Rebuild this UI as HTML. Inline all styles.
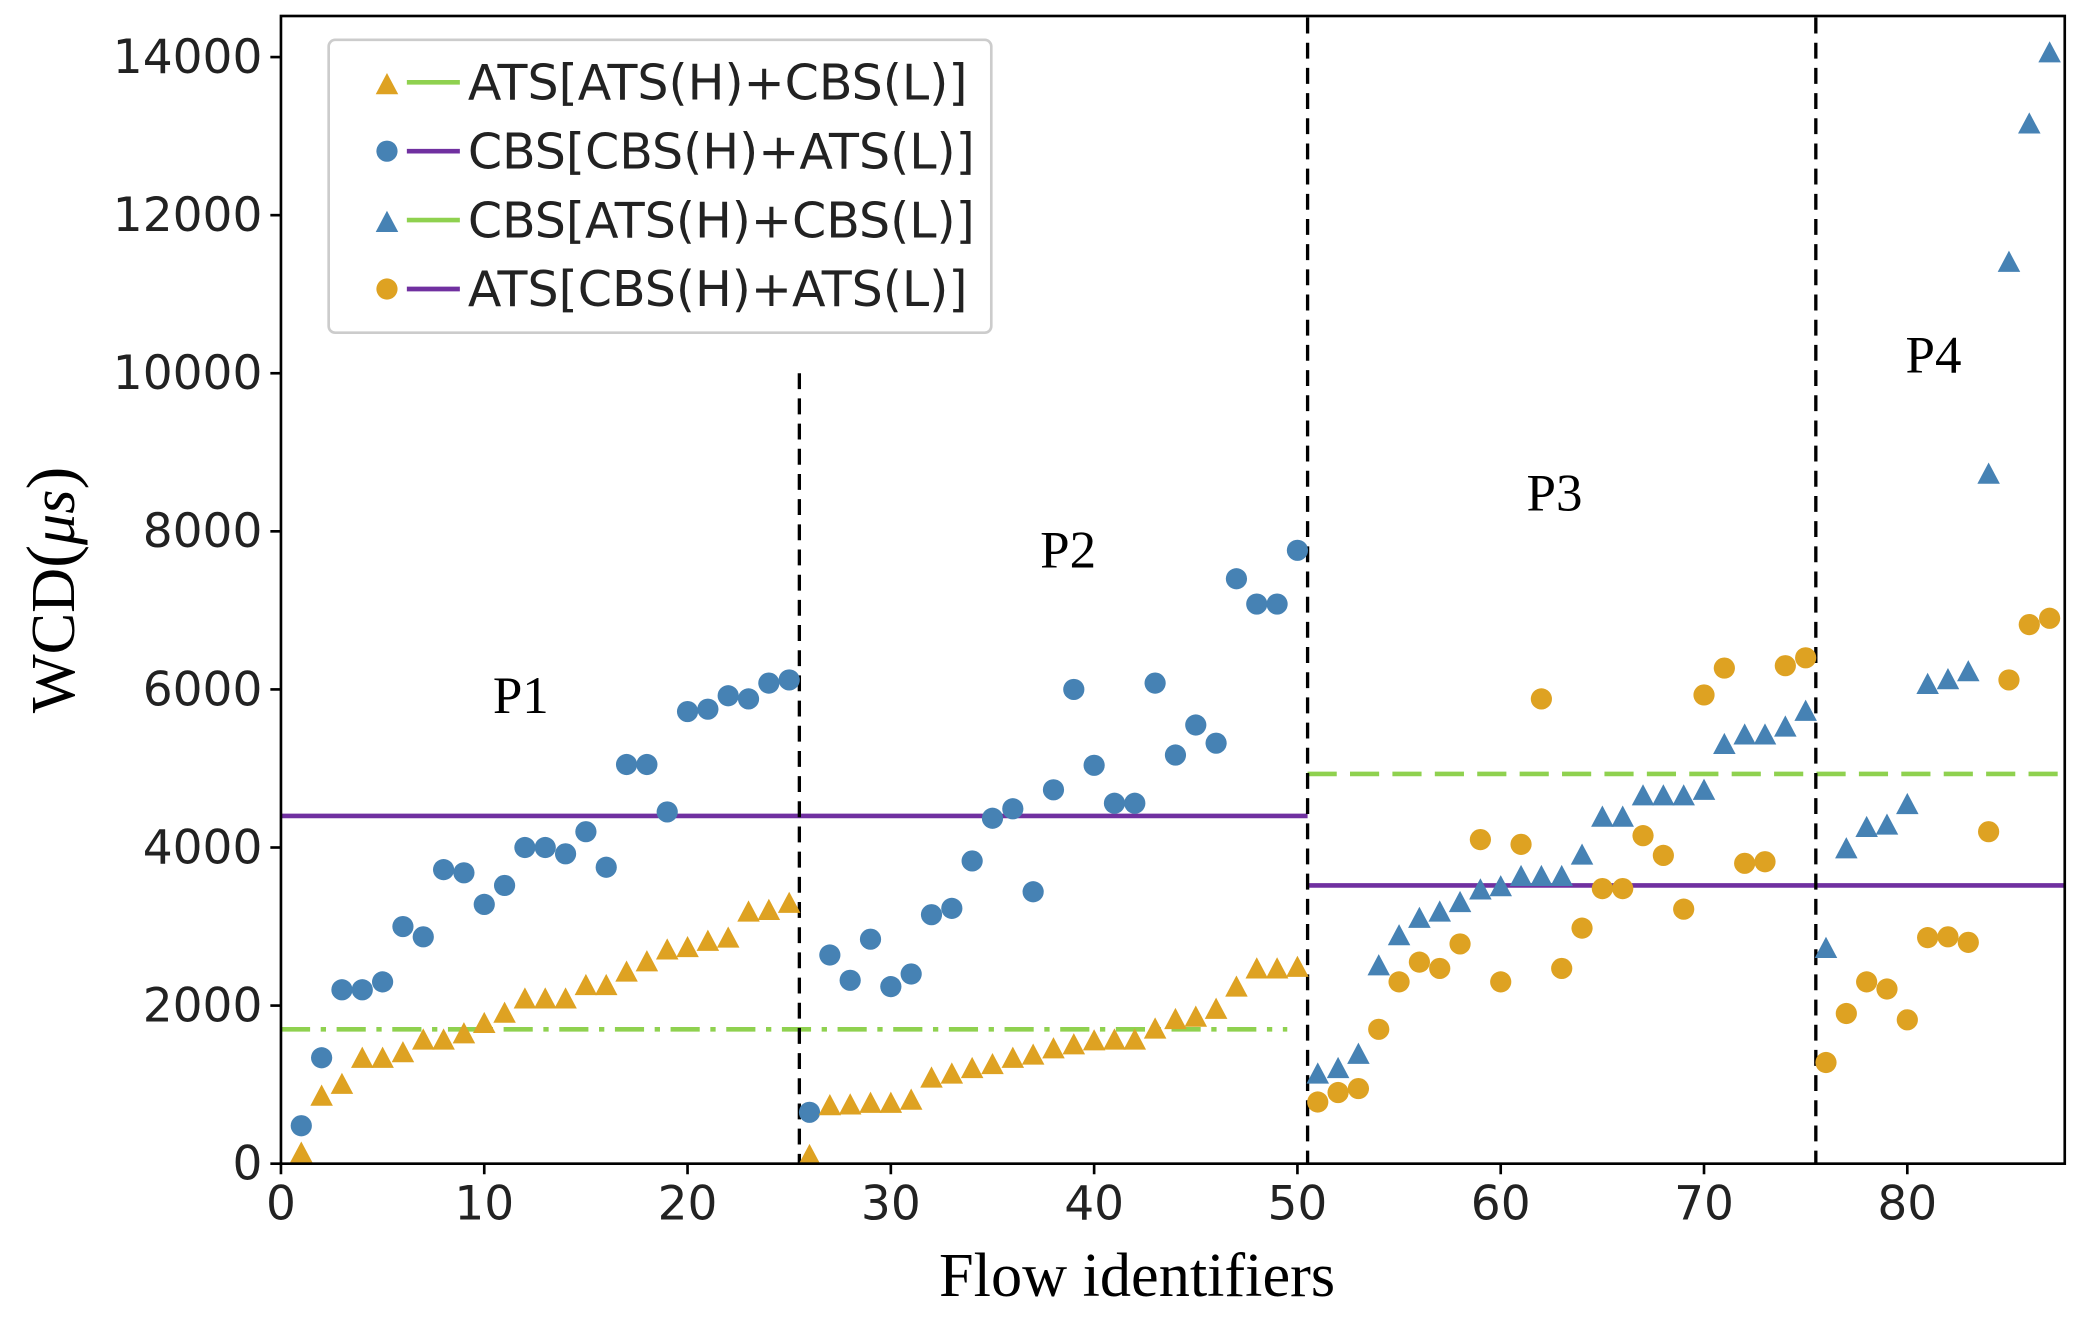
<!DOCTYPE html>
<html><head><meta charset="utf-8"><style>
html,body{margin:0;padding:0;background:#fff;}
svg{display:block;}
</style></head><body>
<svg id="chart" width="2078" height="1344" viewBox="0 0 1568 1014" xmlns="http://www.w3.org/2000/svg">
<rect x="0" y="0" width="1568" height="1014" fill="#fff"/>
<g id="marks"></g>
<g id="axes"></g>
</svg>
<script>
const flowsA = Array.from({length:50},(_,i)=>i+1);
const flowsB = Array.from({length:37},(_,i)=>i+51);
const cbsCbsH = [480,1340,2200,2200,2300,3000,2870,3720,3680,3280,3520,4000,4000,3920,4200,3750,5050,5050,4450,5720,5750,5920,5880,6080,6120,
650,2640,2320,2840,2240,2400,3150,3230,3830,4370,4490,3440,4730,6000,5040,4560,4560,6080,5170,5550,5320,7400,7080,7080,7760];
const atsAtsH = [130,850,1000,1330,1330,1400,1560,1560,1640,1770,1900,2080,2080,2080,2250,2250,2420,2550,2700,2730,2810,2850,3180,3200,3290,
100,730,740,760,760,800,1080,1130,1200,1250,1330,1370,1450,1500,1550,1560,1560,1700,1820,1850,1950,2230,2460,2460,2480];
const cbsAtsH = [1130,1200,1380,2500,2880,3100,3180,3300,3460,3500,3630,3630,3630,3900,4380,4380,4650,4650,4650,4720,5300,5420,5420,5520,5720,
2720,3980,4250,4280,4540,6060,6120,6220,8720,11400,13150,14050];
const atsCbsH = [780,900,950,1700,2300,2550,2470,2780,4100,2300,4040,5880,2470,2980,3480,3480,4150,3900,3220,5930,6270,3800,3820,6300,6400,
1280,1900,2300,2210,1820,2860,2870,2800,4200,6120,6820,6900];
const xTicks = [0,10,20,30,40,50,60,70,80];
const yTicks = [0,2000,4000,6000,8000,10000,12000,14000];
const hLines = [
 {name:'purple-bound-1', y:4400, x0:0, x1:50.5, color:'#7030a0', dash:''},
 {name:'purple-bound-2', y:3520, x0:50.5, x1:88.2, color:'#7030a0', dash:''},
 {name:'green-bound-1', y:1700, x0:0, x1:49.5, color:'#8fd14f', dash:'22 8 4 8'},
 {name:'green-bound-2', y:4930, x0:50.5, x1:88.2, color:'#8fd14f', dash:'22 10'}
];
const vLines = [{x:25.5,top:10000},{x:50.5,top:14500},{x:75.5,top:14500}];

const L=212,R=1558,T=12,B=878;
const xs=v=>212+v*15.34;
const ys=v=>878-v*(835/14000);
const NS='http://www.w3.org/2000/svg';
const marks=document.getElementById('marks'), axes=document.getElementById('axes');
function mk(tag,attrs,parent){const e=document.createElementNS(NS,tag);for(const k in attrs)e.setAttribute(k,attrs[k]);parent.appendChild(e);return e;}
const ORANGE='#dea222', BLUE='#4682b4';
function tri(x,y,c,p){return mk('polygon',{points:`${x},${y-9} ${x-8.5},${y+7} ${x+8.5},${y+7}`,fill:c},p);}

hLines.forEach(h=>{
 const e=mk('line',{x1:xs(h.x0),x2:Math.min(xs(h.x1),R),y1:ys(h.y),y2:ys(h.y),stroke:h.color,'stroke-width':3.5,'stroke-dasharray':h.dash},marks);
 
 
});
vLines.forEach((v,i)=>{
 const e=mk('line',{x1:xs(v.x),x2:xs(v.x),y1:Math.max(ys(v.top),T),y2:B,stroke:'#000','stroke-width':2.5,'stroke-dasharray':'12 7'},marks);
 
 
});
flowsA.forEach((f,i)=>{
 const c=mk('circle',{cx:xs(f),cy:ys(cbsCbsH[i]),r:8,fill:BLUE},marks);
 
 
 const t=tri(xs(f),ys(atsAtsH[i]),ORANGE,marks);
 
 
});
flowsB.forEach((f,i)=>{
 const t=tri(xs(f),ys(cbsAtsH[i]),BLUE,marks);
 
 
 const c=mk('circle',{cx:xs(f),cy:ys(atsCbsH[i]),r:8,fill:ORANGE},marks);
 
 
});
const fr=mk('rect',{x:L,y:T,width:R-L,height:B-T,fill:'none',stroke:'#000','stroke-width':2},axes);


const sans='DejaVu Sans, Liberation Sans, sans-serif', serif='Liberation Serif, serif';
xTicks.forEach(v=>{
 mk('line',{x1:xs(v),x2:xs(v),y1:B,y2:B+8,stroke:'#000','stroke-width':2},axes);
 const t=mk('text',{x:xs(v),y:B+42,'text-anchor':'middle','font-family':sans,'font-size':35.5,fill:'#222'},axes);
 t.textContent=v;
 
 
});
yTicks.forEach(v=>{
 mk('line',{x1:L-8,x2:L,y1:ys(v),y2:ys(v),stroke:'#000','stroke-width':2},axes);
 const t=mk('text',{x:L-14,y:ys(v)+12,'text-anchor':'end','font-family':sans,'font-size':35.5,fill:'#222'},axes);
 t.textContent=v;
 
 
});
const xl=mk('text',{x:858,y:978,'text-anchor':'middle','font-family':serif,'font-size':47,fill:'#000'},axes);
xl.textContent='Flow identifiers';


const yl=mk('text',{x:0,y:0,'text-anchor':'middle','font-family':serif,'font-size':47,fill:'#000',transform:'translate(56,445) rotate(-90)'},axes);
yl.innerHTML='WCD<tspan font-size="52">(</tspan><tspan font-style="italic">μs</tspan><tspan font-size="52">)</tspan>';


[['P1',393,538],['P2',806,428],['P3',1173,385],['P4',1459,281]].forEach(p=>{
 const t=mk('text',{x:p[1],y:p[2],'text-anchor':'middle','font-family':serif,'font-size':40,fill:'#000'},axes);
 t.textContent=p[0];
 
 
});
const lg=mk('g',{},axes);


mk('rect',{x:248,y:30,width:500,height:221,rx:5,fill:'#fff','fill-opacity':0.85,stroke:'#ccc','stroke-width':2},lg);
const legendItems=[
 ['ATS[ATS(H)+CBS(L)]','tri',ORANGE,'#8fd14f'],
 ['CBS[CBS(H)+ATS(L)]','circ',BLUE,'#7030a0'],
 ['CBS[ATS(H)+CBS(L)]','tri',BLUE,'#8fd14f'],
 ['ATS[CBS(H)+ATS(L)]','circ',ORANGE,'#7030a0']];
legendItems.forEach((it,i)=>{
 const y=62+i*52;
 const g=mk('g',{},lg);
 
 
 if(it[1]==='tri')tri(292,y+2,it[2],g);else mk('circle',{cx:292,cy:y,r:8,fill:it[2]},g);
 mk('line',{x1:307,x2:347,y1:y,y2:y,stroke:it[3],'stroke-width':3.5},g);
 const t=mk('text',{x:353,y:y+13,'font-family':sans,'font-size':37,fill:'#222'},g);
 t.textContent=it[0];
});
</script>
</body></html>
